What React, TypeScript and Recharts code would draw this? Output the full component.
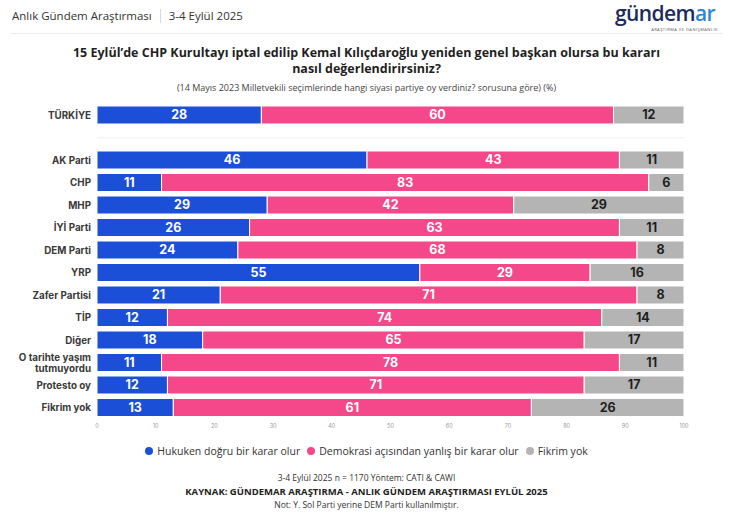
import React from "react";
import {
  BarChart,
  Bar,
  XAxis,
  YAxis,
  LabelList,
  ReferenceLine,
} from "recharts";

const categories = [
  "TÜRKİYE",
  " ",
  "AK Parti",
  "CHP",
  "MHP",
  "İYİ Parti",
  "DEM Parti",
  "YRP",
  "Zafer Partisi",
  "TİP",
  "Diğer",
  "O tarihte yaşım tutmuyordu",
  "Protesto oy",
  "Fikrim yok",
];

const hukuken = [28, null, 46, 11, 29, 26, 24, 55, 21, 12, 18, 11, 12, 13];
const demokrasi = [60, null, 43, 83, 42, 63, 68, 29, 71, 74, 65, 78, 71, 61];
const fikrimYok = [12, null, 11, 6, 29, 11, 8, 16, 8, 14, 17, 11, 17, 26];

const xTicks = [0, 10, 20, 30, 40, 50, 60, 70, 80, 90, 100];

const series = [
  { key: "hukuken", name: "Hukuken doğru bir karar olur", color: "#1c4fd8", text: "#ffffff" },
  { key: "demokrasi", name: "Demokrasi açısından yanlış bir karar olur", color: "#f4488b", text: "#ffffff" },
  { key: "fikrim", name: "Fikrim yok", color: "#b4b4b4", text: "#1f1f1f" },
];

const data = categories.map((name, i) => ({
  name,
  hukuken: hukuken[i],
  demokrasi: demokrasi[i],
  fikrim: fikrimYok[i],
}));

const FONT = "Inter, 'Open Sans', sans-serif";

function CategoryTick(props: any) {
  const { x, y, payload } = props;
  const words = String(payload.value).split(" ");
  const lines =
    words.length > 3 ? [words.slice(0, 3).join(" "), words.slice(3).join(" ")] : [payload.value];
  const start = -((lines.length - 1) * 11) / 2;
  return (
    <text
      x={x}
      y={y}
      textAnchor="end"
      fill="#3a3a3a"
      fontSize={9.8}
      fontWeight={700}
      fontFamily={FONT}
    >
      {lines.map((l, i) => (
        <tspan key={i} x={x} dy={i === 0 ? start + 3.5 : 11}>
          {l}
        </tspan>
      ))}
    </text>
  );
}

export default function App() {
  return (
    <div
      style={{
        position: "fixed",
        left: 0,
        top: 0,
        width: 733,
        height: 516,
        background: "#ffffff",
        fontFamily: "'Open Sans', sans-serif",
        overflow: "hidden",
      }}
    >
      {/* header */}
      <div style={{ position: "absolute", left: 12, top: 8, fontSize: 11.5, color: "#333", display: "flex", alignItems: "center" }}>
        <span>Anlık Gündem Araştırması</span>
        <span style={{ display: "inline-block", width: 1, height: 14, background: "#d8d8d8", margin: "0 8px" }} />
        <span>3-4 Eylül 2025</span>
      </div>
      <div style={{ position: "absolute", left: 612, top: 1, width: 106, fontSize: 21, fontWeight: 600, color: "#1d2a5c", lineHeight: "24px", letterSpacing: -0.6, textAlign: "center" }}>
        gündem<span style={{ color: "#2f86d6" }}>ar</span>
      </div>
      <div style={{ position: "absolute", left: 612, top: 27, width: 106, fontSize: 4, lineHeight: "5px", color: "#555", letterSpacing: 0.5, textAlign: "right", whiteSpace: "nowrap" }}>
        ARAŞTIRMA VE DANIŞMANLIK
      </div>
      <div style={{ position: "absolute", left: 10, top: 33, width: 713, height: 1, background: "#ececec" }} />

      {/* title */}
      <div
        style={{
          position: "absolute",
          left: 40,
          top: 45,
          width: 653,
          textAlign: "center",
          fontSize: 12.5,
          fontWeight: 700,
          color: "#1f1f1f",
          lineHeight: "16px",
        }}
      >
        15 Eylül’de CHP Kurultayı iptal edilip Kemal Kılıçdaroğlu yeniden genel başkan olursa bu kararı
        <br />
        nasıl değerlendirirsiniz?
      </div>
      <div style={{ position: "absolute", left: 0, top: 81, width: 733, textAlign: "center", fontSize: 9, color: "#444" }}>
        (14 Mayıs 2023 Milletvekili seçimlerinde hangi siyasi partiye oy verdiniz? sorusuna göre) (%)
      </div>

      {/* chart */}
      <div style={{ position: "absolute", left: 0, top: 0 }}>
        <BarChart
          width={733}
          height={445}
          data={data}
          layout="vertical"
          margin={{ top: 104, right: 49, bottom: 6, left: 0 }}
          barSize={18}
        >
          <XAxis
            type="number"
            domain={[0, 100]}
            ticks={xTicks}
            axisLine={false}
            tickLine={false}
            tickSize={0}
            tickMargin={5}
            height={20}
            tick={{ fontSize: 5.5, fill: "#9a9a9a", fontFamily: FONT }}
          />
          <YAxis
            type="category"
            dataKey="name"
            width={97}
            axisLine={false}
            tickLine={false}
            tickSize={0}
            tickMargin={6}
            interval={0}
            tick={<CategoryTick />}
          />
          <ReferenceLine y=" " stroke="#efefef" strokeWidth={1} />
          {series.map((s) => (
            <Bar
              key={s.key}
              dataKey={s.key}
              name={s.name}
              stackId="a"
              fill={s.color}
              stroke="#ffffff"
              strokeWidth={1}
              isAnimationActive={false}
            >
              <LabelList
                dataKey={s.key}
                position="center"
                fill={s.text}
                fontSize={12.5}
                fontWeight={700}
                fontFamily={FONT}
              />
            </Bar>
          ))}
        </BarChart>
      </div>

      {/* legend */}
      <div
        style={{
          position: "absolute",
          left: 0,
          top: 444,
          width: 733,
          display: "flex",
          justifyContent: "center",
          gap: 7,
          fontSize: 10.5,
          color: "#333",
        }}
      >
        {series.map((s) => (
          <span key={s.key} style={{ display: "flex", alignItems: "center" }}>
            <span style={{ width: 8, height: 8, borderRadius: 4, background: s.color, marginRight: 4 }} />
            {s.name}
          </span>
        ))}
      </div>

      {/* footer */}
      <div style={{ position: "absolute", left: 0, top: 472, width: 733, textAlign: "center", fontSize: 8.5, color: "#333" }}>
        3-4 Eylül 2025 n = 1170 Yöntem: CATI &amp; CAWI
      </div>
      <div style={{ position: "absolute", left: 0, top: 485, width: 733, textAlign: "center", fontSize: 9.5, fontWeight: 700, color: "#222" }}>
        KAYNAK: GÜNDEMAR ARAŞTIRMA - ANLIK GÜNDEM ARAŞTIRMASI EYLÜL 2025
      </div>
      <div style={{ position: "absolute", left: 0, top: 499, width: 733, textAlign: "center", fontSize: 8.5, color: "#333" }}>
        Not: Y. Sol Parti yerine DEM Parti kullanılmıştır.
      </div>
    </div>
  );
}
